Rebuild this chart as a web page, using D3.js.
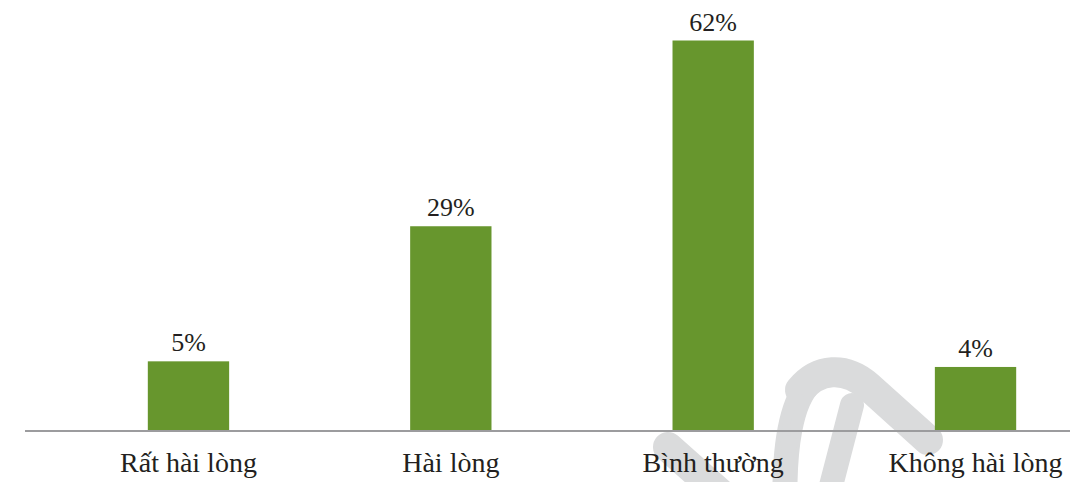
<!DOCTYPE html>
<html>
<head>
<meta charset="utf-8">
<script src="https://cdn.jsdelivr.net/npm/d3@7"></script>
<style>
  html, body { margin: 0; padding: 0; background: #ffffff; }
  svg { display: block; }
</style>
</head>
<body>
<svg id="chart" width="1070" height="482"></svg>
<script>
// Survey results: satisfaction levels
const categories = ["Rất hài lòng", "Hài lòng", "Bình thường", "Không hài lòng"];
const values = [5, 29, 62, 4];
const valueLabels = ["5%", "29%", "62%", "4%"];

const W = 1070;
const baseY = 430;
const serif = '"Liberation Serif"';

const svg = d3.select("#chart");

// faint background emblem in the lower right
const markColor = "#dadbdc";
const mark = svg.append("g")
  .attr("fill", "none")
  .attr("stroke", markColor)
  .attr("stroke-linecap", "round");
mark.append("path")
  .attr("d", "M 668 447 L 722 495")
  .attr("stroke-width", 30);
mark.append("path")
  .attr("d", "M 785 505 C 784 450, 790 400, 812 381")
  .attr("stroke-width", 25);
mark.append("path")
  .attr("d", "M 800 390 C 818 368, 845 366, 868 386 L 928 440")
  .attr("stroke-width", 30);
mark.append("path")
  .attr("d", "M 852 405 L 826 505")
  .attr("stroke-width", 24);
mark.append("path")
  .attr("d", "M 800 398 C 786 410, 784 428, 788 442")
  .attr("stroke-width", 8);
mark.append("circle")
  .attr("cx", 789).attr("cy", 444).attr("r", 9)
  .attr("fill", markColor).attr("stroke", "none");

const x = d3.scaleBand()
  .domain(categories)
  .range([57.3, 1106.7])
  .paddingInner(0.69)
  .paddingOuter(0.345);

const y = d3.scaleLinear()
  .domain([-7.2, 62])
  .range([baseY, 40.5]);

const data = categories.map((c, i) => ({ c, v: values[i], label: valueLabels[i] }));

svg.append("g")
  .selectAll("rect")
  .data(data)
  .join("rect")
  .attr("x", d => x(d.c))
  .attr("width", x.bandwidth())
  .attr("y", d => y(d.v))
  .attr("height", d => baseY - y(d.v))
  .attr("fill", "#67962d");

// baseline
svg.append("line")
  .attr("x1", 25).attr("x2", W)
  .attr("y1", baseY + 1).attr("y2", baseY + 1)
  .attr("stroke", "#9c9c9e")
  .attr("stroke-width", 2);

svg.append("g")
  .selectAll("text")
  .data(data)
  .join("text")
  .attr("x", d => x(d.c) + x.bandwidth() / 2)
  .attr("y", d => y(d.v) - 10)
  .attr("text-anchor", "middle")
  .attr("fill", "#231f20")
  .attr("font-size", 26)
  .style("font-family", serif)
  .text(d => d.label);

svg.append("g")
  .selectAll("text")
  .data(data)
  .join("text")
  .attr("x", d => x(d.c) + x.bandwidth() / 2)
  .attr("y", 472)
  .attr("text-anchor", "middle")
  .attr("fill", "#231f20")
  .attr("font-size", 28)
  .style("font-family", serif)
  .text(d => d.c);
</script>
</body>
</html>
